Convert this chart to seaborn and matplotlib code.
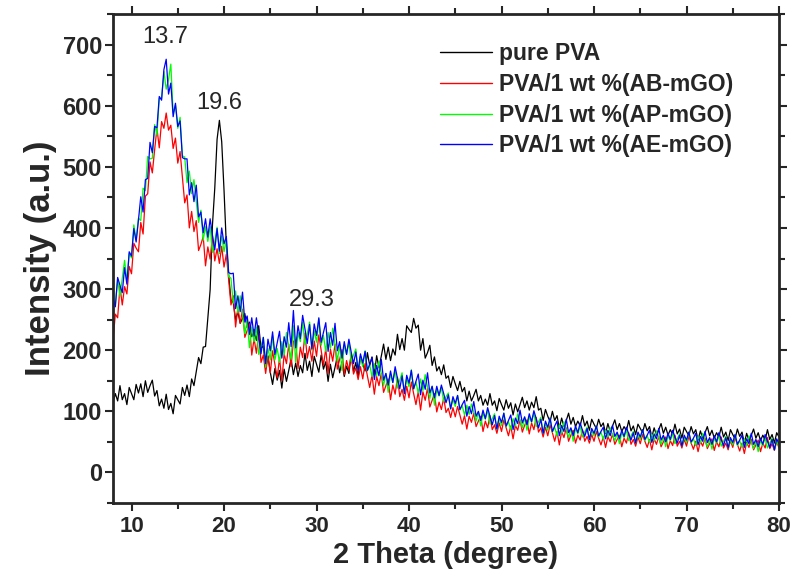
import numpy as np
import pandas as pd
import matplotlib
matplotlib.use('Agg')
import matplotlib.pyplot as plt
import seaborn as sns
from matplotlib.ticker import MultipleLocator

# 2 theta scan positions (0.25 degree step, 8 -> 80), one row = 5 degrees
two_theta = np.arange(8, 80.125, 0.25)

pure_pva = [
    114, 129, 117, 142, 119, 129, 111, 139, 129, 119, 144, 130, 145, 124, 150, 131, 142, 151, 125, 134,
    109, 120, 105, 128, 103, 113, 96, 126, 119, 112, 139, 126, 143, 124, 153, 142, 165, 188, 178, 205,
    206, 253, 299, 405, 465, 545, 576, 541, 462, 372, 324, 282, 278, 250, 263, 244, 252, 260, 237, 246,
    222, 234, 216, 240, 203, 207, 170, 190, 164, 144, 170, 151, 167, 138, 169, 149, 167, 186, 160, 179,
    157, 175, 163, 195, 167, 182, 157, 190, 177, 164, 192, 169, 181, 149, 177, 155, 172, 190, 163, 181,
    157, 174, 162, 193, 165, 180, 156, 190, 178, 166, 196, 175, 189, 160, 191, 171, 190, 210, 185, 205,
    183, 202, 192, 226, 201, 219, 200, 240, 234, 229, 252, 236, 241, 200, 219, 187, 196, 208, 175, 189,
    166, 173, 160, 176, 154, 158, 139, 157, 145, 134, 149, 132, 139, 117, 133, 117, 126, 136, 117, 126,
    110, 120, 110, 129, 110, 117, 101, 121, 111, 102, 119, 105, 114, 94, 112, 99, 111, 123, 106, 117,
    102, 115, 106, 124, 102, 105, 85, 103, 92, 83, 100, 85, 93, 72, 89, 75, 85, 97, 79, 90,
    75, 84, 76, 93, 76, 84, 69, 87, 79, 72, 87, 75, 81, 64, 80, 67, 76, 86, 70, 80,
    67, 75, 68, 85, 68, 76, 62, 79, 72, 65, 80, 68, 75, 58, 73, 61, 70, 80, 64, 74,
    61, 70, 62, 79, 63, 71, 56, 74, 67, 60, 75, 63, 70, 53, 68, 56, 65, 75, 60, 69,
    56, 65, 58, 74, 58, 66, 52, 70, 62, 55, 71, 59, 66, 48, 64, 52, 61, 71, 56, 65,
    52, 61, 53, 70, 54, 62, 48, 65, 58,
]

ab_mgo = [
    216, 259, 253, 304, 274, 304, 292, 337, 325, 375, 367, 361, 409, 390, 452, 456, 508, 490, 528, 563,
    531, 574, 563, 588, 560, 568, 530, 547, 506, 525, 483, 441, 454, 400, 427, 394, 412, 363, 373, 386,
    338, 369, 349, 387, 346, 366, 342, 370, 336, 357, 315, 274, 289, 238, 270, 244, 267, 221, 232, 243,
    192, 219, 195, 228, 180, 192, 162, 191, 163, 199, 177, 155, 187, 150, 194, 178, 210, 173, 215, 213,
    170, 205, 188, 228, 187, 206, 182, 215, 190, 225, 200, 175, 203, 162, 202, 182, 210, 169, 185, 201,
    160, 183, 167, 194, 161, 171, 152, 173, 153, 178, 158, 139, 159, 128, 157, 142, 162, 131, 142, 153,
    119, 143, 128, 156, 124, 136, 118, 141, 122, 148, 129, 111, 132, 102, 132, 118, 138, 107, 118, 129,
    99, 115, 103, 122, 98, 105, 90, 106, 91, 108, 94, 79, 93, 71, 92, 82, 97, 75, 84, 92,
    67, 84, 73, 93, 70, 78, 64, 81, 67, 86, 73, 60, 76, 55, 77, 69, 86, 66, 77, 86,
    63, 81, 70, 90, 66, 73, 58, 74, 60, 78, 65, 51, 67, 45, 67, 57, 73, 51, 61, 69,
    48, 61, 53, 70, 51, 59, 48, 62, 51, 67, 56, 45, 58, 41, 59, 50, 63, 46, 54, 61,
    42, 56, 48, 65, 46, 54, 43, 58, 47, 62, 51, 41, 54, 37, 55, 46, 59, 42, 50, 58,
    39, 52, 44, 61, 43, 51, 40, 54, 43, 59, 48, 38, 51, 34, 51, 43, 56, 39, 47, 55,
    36, 50, 42, 58, 40, 48, 37, 52, 41, 57, 46, 35, 48, 31, 49, 41, 54, 37, 45, 53,
    34, 48, 40, 57, 39, 47, 36, 51, 40,
]

ap_mgo = [
    282, 274, 316, 288, 318, 347, 314, 358, 351, 405, 380, 416, 412, 465, 461, 517, 513, 514, 569, 552,
    612, 612, 656, 627, 643, 668, 588, 601, 563, 581, 518, 516, 474, 493, 456, 479, 443, 409, 429, 380,
    402, 378, 402, 360, 378, 401, 358, 387, 361, 382, 320, 318, 277, 297, 261, 289, 258, 227, 249, 204,
    238, 214, 238, 193, 206, 221, 172, 203, 184, 224, 184, 203, 180, 214, 192, 229, 206, 185, 240, 180,
    229, 214, 246, 209, 227, 246, 200, 232, 213, 251, 208, 224, 198, 229, 203, 236, 209, 182, 209, 167,
    209, 193, 213, 181, 192, 202, 167, 189, 173, 199, 166, 176, 157, 178, 158, 182, 162, 142, 162, 131,
    161, 147, 168, 138, 151, 163, 130, 154, 140, 168, 136, 148, 130, 153, 134, 160, 140, 121, 141, 110,
    136, 125, 139, 116, 124, 130, 104, 120, 108, 126, 102, 109, 94, 110, 95, 112, 99, 84, 99, 76,
    97, 87, 102, 79, 88, 96, 71, 88, 77, 97, 75, 83, 70, 88, 76, 96, 85, 73, 90, 69,
    91, 82, 97, 75, 83, 90, 64, 80, 69, 89, 66, 74, 60, 78, 64, 83, 70, 57, 72, 51,
    72, 63, 76, 58, 66, 74, 54, 68, 60, 76, 58, 66, 54, 69, 58, 73, 62, 52, 64, 47,
    65, 57, 69, 52, 60, 67, 48, 62, 54, 70, 52, 60, 49, 63, 52, 68, 57, 46, 59, 42,
    60, 52, 64, 47, 55, 63, 43, 57, 49, 66, 48, 55, 44, 59, 48, 64, 52, 42, 55, 38,
    56, 48, 60, 43, 51, 59, 40, 53, 45, 62, 44, 52, 41, 55, 44, 60, 49, 39, 52, 34,
    52, 44, 57, 40, 48, 56, 37, 51, 43,
]

ae_mgo = [
    285, 271, 319, 306, 294, 335, 308, 361, 354, 399, 377, 413, 451, 426, 479, 481, 540, 523, 566, 564,
    615, 609, 659, 676, 619, 637, 582, 604, 566, 575, 515, 513, 513, 454, 474, 443, 470, 418, 426, 392,
    415, 385, 415, 388, 364, 399, 362, 400, 374, 386, 327, 325, 326, 268, 289, 263, 295, 246, 256, 226,
    253, 223, 253, 223, 194, 221, 178, 218, 199, 230, 193, 212, 231, 187, 222, 205, 245, 206, 265, 204,
    240, 219, 257, 235, 211, 242, 202, 243, 224, 253, 213, 229, 245, 198, 229, 208, 244, 199, 214, 187,
    214, 193, 218, 197, 178, 197, 166, 194, 179, 198, 167, 177, 188, 152, 175, 158, 185, 151, 162, 143,
    166, 147, 173, 154, 137, 158, 129, 159, 146, 167, 137, 149, 161, 127, 151, 136, 163, 130, 141, 122,
    141, 126, 143, 129, 114, 127, 104, 124, 113, 126, 103, 111, 118, 92, 108, 96, 116, 92, 100, 85,
    102, 88, 106, 92, 78, 93, 71, 92, 82, 97, 76, 85, 94, 70, 89, 80, 102, 81, 91, 78,
    96, 83, 101, 88, 73, 87, 64, 84, 74, 89, 67, 76, 84, 60, 77, 67, 87, 65, 73, 60,
    76, 65, 81, 69, 59, 72, 54, 72, 64, 76, 60, 67, 74, 55, 69, 60, 77, 59, 66, 55,
    69, 59, 74, 63, 53, 65, 48, 66, 58, 70, 54, 61, 69, 49, 63, 55, 72, 53, 61, 50,
    64, 54, 69, 58, 48, 61, 43, 61, 53, 66, 50, 56, 64, 45, 59, 51, 67, 49, 57, 46,
    60, 50, 65, 54, 44, 57, 40, 57, 49, 62, 46, 53, 61, 41, 55, 47, 64, 46, 54, 42,
    56, 46, 62, 51, 41, 54, 37, 55, 47,
]

labels = ['pure PVA', 'PVA/1 wt %(AB-mGO)', 'PVA/1 wt %(AP-mGO)', 'PVA/1 wt %(AE-mGO)']
colors = ['#000000', '#ff0000', '#00ff00', '#0000ff']

frames = []
for lab, vals in zip(labels, [pure_pva, ab_mgo, ap_mgo, ae_mgo]):
    frames.append(pd.DataFrame({'two_theta': two_theta, 'intensity': vals, 'sample': lab}))
df = pd.concat(frames, ignore_index=True)

sns.set_style('ticks')
plt.rcParams['font.family'] = ['Liberation Sans', 'DejaVu Sans']

fig = plt.figure(figsize=(7.92, 5.83), dpi=100)
ax = fig.add_axes([0.1427, 0.1372, 0.8409, 0.8388])

sns.lineplot(data=df, x='two_theta', y='intensity', hue='sample', palette=colors,
             linewidth=0.9, estimator=None, sort=False, ax=ax)

ax.set_xlim(8, 80)
ax.set_ylim(-50, 750)
ax.xaxis.set_major_locator(MultipleLocator(10))
ax.xaxis.set_minor_locator(MultipleLocator(5))
ax.yaxis.set_major_locator(MultipleLocator(100))
ax.yaxis.set_minor_locator(MultipleLocator(50))
ax.tick_params(which='both', direction='out', top=True, right=True, width=1.5)
ax.tick_params(which='major', length=6)
ax.tick_params(which='minor', length=4)
ax.tick_params(axis='y', labelsize=17, pad=2)
ax.tick_params(axis='x', labelsize=16, pad=3)
for lbl in ax.get_xticklabels() + ax.get_yticklabels():
    lbl.set_fontweight('bold')
for sp in ax.spines.values():
    sp.set_linewidth(2)

ax.set_xlabel('2 Theta (degree)', fontsize=21, fontweight='bold', labelpad=3)
ax.set_ylabel('Intensity (a.u.)', fontsize=25, fontweight='bold', labelpad=4)

ax.text(13.6, 712, '13.7', ha='center', va='center', fontsize=17)
ax.text(19.45, 605, '19.6', ha='center', va='center', fontsize=17)
ax.text(29.5, 282, '29.3', ha='center', va='center', fontsize=17)

handles, labs = ax.get_legend_handles_labels()
leg = ax.legend(handles, labs, loc='upper left', bbox_to_anchor=(440 / 792, 1 - 42 / 583),
                bbox_transform=fig.transFigure, frameon=False, borderpad=0,
                borderaxespad=0, handlelength=2.27, handletextpad=0.3, labelspacing=0.34,
                prop={'weight': 'bold', 'size': 16.5})
for line in leg.get_lines():
    line.set_linewidth(1.0)

fig.savefig('out.png', dpi=100)
